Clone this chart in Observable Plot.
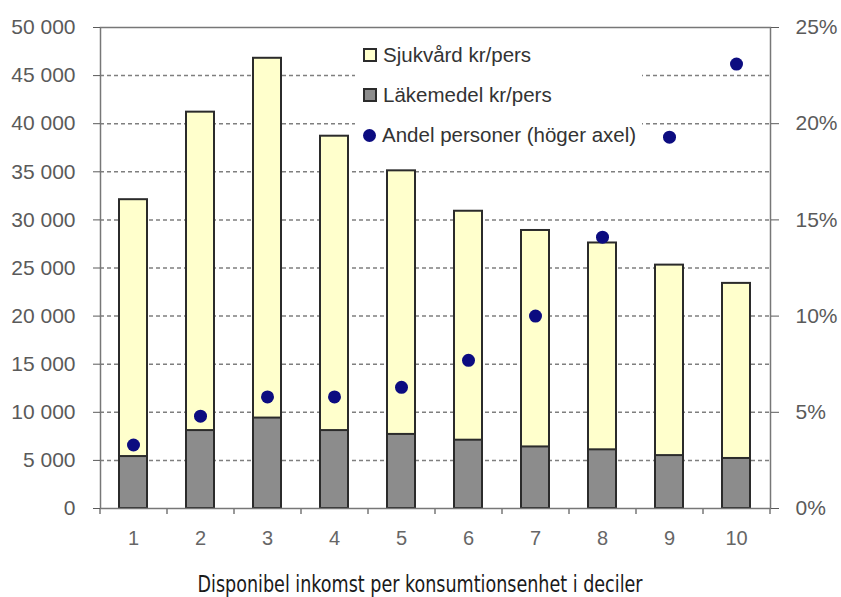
<!DOCTYPE html>
<html>
<head>
<meta charset="utf-8">
<script src="https://cdn.jsdelivr.net/npm/d3@7"></script>
<script src="https://cdn.jsdelivr.net/npm/@observablehq/plot@0.6"></script>
<style>
  body { margin: 0; background: #fff; }
  #wrap { position: relative; width: 841px; height: 597px; }
  #legend {
    position: absolute; left: 355px; top: 29px; width: 287px; height: 122px;
    background: #fff; font-family: "Liberation Sans", Arial, sans-serif;
    font-size: 20.5px; color: #333;
  }
  .item { position: absolute; left: 8px; height: 24px; display: flex; align-items: center; white-space: nowrap; }
  .sw { box-sizing: border-box; width: 14px; height: 14px; border: 2px solid #2b2b2b; margin-right: 6px; }
  .dt { width: 13px; height: 13px; border-radius: 50%; background: #0c0c80; margin-right: 6px; }
  #xtitle {
    position: absolute; left: 0; top: 569px; width: 841px; text-align: center;
    line-height: 30px; font-family: "Liberation Sans Narrow", "DejaVu Sans Condensed", sans-serif;
    font-stretch: condensed; font-size: 23.5px; color: #1a1a1a;
  }
  #xtitle span { display: inline-block; transform: scaleX(0.83); transform-origin: center; }
</style>
</head>
<body>
<div id="wrap">
  <div id="chart"></div>
  <div id="legend"></div>
  <div id="xtitle"><span></span></div>
</div>
<script>
// Income deciles (disposable income per consumption unit)
const deciles = [1, 2, 3, 4, 5, 6, 7, 8, 9, 10];
// Health care cost per person, kr
const sjukvard = [32100, 41200, 46800, 38700, 35100, 30900, 28900, 27600, 25300, 23400];
// Pharmaceuticals cost per person, kr
const lakemedel = [5400, 8100, 9400, 8100, 7700, 7100, 6400, 6100, 5500, 5200];
// Share of persons, percent (right axis)
const andel = [3.3, 4.8, 5.8, 5.8, 6.3, 7.7, 10.0, 14.1, 19.3, 23.1];

const yTicks = [0, 5000, 10000, 15000, 20000, 25000, 30000, 35000, 40000, 45000, 50000];
const pctTicks = [0, 5, 10, 15, 20, 25];

const legendItems = [
  {label: "Sjukvård kr/pers", kind: "box", color: "#ffffcc"},
  {label: "Läkemedel kr/pers", kind: "box", color: "#8c8c8c"},
  {label: "Andel personer (höger axel)", kind: "dot", color: "#0c0c80"}
];
const xTitle = "Disponibel inkomst per konsumtionsenhet i deciler";

const rows = deciles.map((d, i) => ({decil: d, sjukvard: sjukvard[i], lakemedel: lakemedel[i], andel: andel[i]}));

// Right axis shares the y scale: 25 % sits at the top of the 0–50 000 range
const pctToKr = yTicks[yTicks.length - 1] / pctTicks[pctTicks.length - 1];
const krFormat = d => d3.format(",")(d).replace(/,/g, " ");

const chart = Plot.plot({
  width: 841,
  height: 555,
  marginLeft: 100,
  marginRight: 71,
  marginTop: 27,
  marginBottom: 47,
  style: {fontFamily: "Liberation Sans, Arial, sans-serif", fontSize: "20px", color: "#5a5a5a", background: "#fff"},
  x: {domain: deciles, paddingInner: 0.58, paddingOuter: 0.29},
  y: {domain: [0, 50000]},
  marks: [
    Plot.ruleY(yTicks.slice(1, -1), {stroke: "#7f7f7f", strokeWidth: 1.5, strokeDasharray: "4,3"}),
    Plot.barY(rows, {x: "decil", y: "sjukvard", fill: "#ffffcc", stroke: "#2b2b2b", strokeWidth: 2}),
    Plot.barY(rows, {x: "decil", y: "lakemedel", fill: "#8c8c8c", stroke: "#2b2b2b", strokeWidth: 2}),
    Plot.frame({stroke: "#777", strokeWidth: 1.5}),
    Plot.ruleX(deciles, {x: d => d, dx: -33.5, y1: 0, y2: 0, insetBottom: -6, stroke: "#777", strokeWidth: 1.5}),
    Plot.ruleX([deciles[deciles.length - 1]], {x: d => d, dx: 33.5, y1: 0, y2: 0, insetBottom: -6, stroke: "#777", strokeWidth: 1.5}),
    Plot.dot(rows, {x: "decil", y: d => d.andel * pctToKr, r: 6.5, fill: "#0c0c80"}),
    Plot.axisY(yTicks, {anchor: "left", tickSize: 7, tickPadding: 18, tickFormat: krFormat, fontSize: 21, label: null, color: "#5a5a5a"}),
    Plot.axisY(pctTicks.map(p => p * pctToKr), {anchor: "right", tickSize: 8, tickPadding: 17, tickFormat: d => d / pctToKr + "%", fontSize: 21, label: null, color: "#5a5a5a"}),
    Plot.axisX({tickSize: 0, tickPadding: 22, fontSize: 20, label: null, color: "#666"})
  ]
});
document.getElementById("chart").appendChild(chart);

const legend = d3.select("#legend");
legendItems.forEach((it, i) => {
  const row = legend.append("div").attr("class", "item").style("top", (14 + i * 40) + "px");
  if (it.kind === "box") row.append("div").attr("class", "sw").style("background", it.color);
  else row.append("div").attr("class", "dt").style("background", it.color);
  row.append("span").text(it.label);
});
document.querySelector("#xtitle span").textContent = xTitle;
</script>
</body>
</html>
